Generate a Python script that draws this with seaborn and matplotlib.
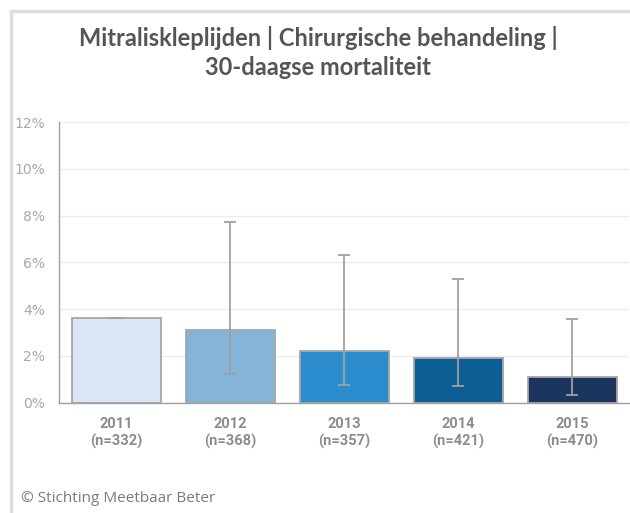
import numpy as np
import pandas as pd
import matplotlib
matplotlib.use('Agg')
import matplotlib.pyplot as plt
import seaborn as sns

# data (percent)
years = ['2011', '2012', '2013', '2014', '2015']
counts = [332, 368, 357, 421, 470]
mortality = [3.62, 3.11, 2.19, 1.92, 1.11]
ci_low = [3.62, 1.23, 0.76, 0.70, 0.34]
ci_high = [3.64, 7.74, 6.33, 5.29, 3.57]
bar_colors = ['#dae6f3', '#85b4d9', '#2b8ccd', '#0c5e95', '#1c355e']

labels = [f'{y}\n(n={n})' for y, n in zip(years, counts)]
df = pd.DataFrame({'label': labels, 'mortality': mortality})

sns.set_style('white')
plt.rcParams['font.family'] = ['Open Sans', 'DejaVu Sans']

fig = plt.figure(figsize=(6.3, 5.13), dpi=100)
ax = fig.add_axes([0.094, 0.215, 0.905, 0.547])

sns.barplot(data=df, x='label', y='mortality', hue='label', palette=bar_colors,
            legend=False, width=0.78, edgecolor='#a6a6a6', linewidth=1.3,
            saturation=1, errorbar=None, ax=ax)

# confidence intervals
x = np.arange(len(years))
m = np.array(mortality)
yerr = [m - np.array(ci_low), np.array(ci_high) - m]
ax.errorbar(x, m, yerr=yerr, fmt='none', ecolor='#a0a0a0', elinewidth=1.3,
            capsize=4.5, capthick=1.3, zorder=5)

ax.set_ylim(0, 12)
ax.set_xlim(-0.5, len(years) - 0.5)
ax.set_yticks(range(0, 13, 2))
ax.set_yticklabels([f'{v}%' for v in range(0, 13, 2)], color='#a8a8a8',
                   fontsize=10, family='DejaVu Sans')
ax.yaxis.grid(True, color='#ececec', linewidth=1)
ax.set_axisbelow(True)

ax.set_xticks(x)
ax.set_xticklabels(labels, fontsize=10.5, fontweight='bold', color='#8c8c8c',
                   family='Roboto', linespacing=1.3)
ax.set_xticks(np.arange(0.5, len(years) - 0.5, 1), minor=True)
ax.tick_params(axis='x', which='major', length=0, pad=10)
ax.tick_params(axis='x', which='minor', length=4, color='#c0c0c0', width=1)
ax.tick_params(axis='y', length=4, color='#a0a0a0', width=1, pad=6)
ax.set_xlabel('')
ax.set_ylabel('')

for side in ['top', 'right']:
    ax.spines[side].set_visible(False)
for side in ['left', 'bottom']:
    ax.spines[side].set_color('#a0a0a0')
    ax.spines[side].set_linewidth(1)

fig.text(0.505, 0.898, 'Mitraliskleplijden | Chirurgische behandeling |\n30-daagse mortaliteit',
         ha='center', va='center', fontsize=17, fontweight='bold', color='#555555',
         family=['Lato', 'DejaVu Sans'], linespacing=1.3)
fig.text(0.033, 0.028, '\u00a9 Stichting Meetbaar Beter', fontsize=11, color='#7a7a7a',
         ha='left', va='center')

# light frame on the top and left edges
fig.add_artist(plt.Line2D([0.018, 1], [0.979, 0.979], transform=fig.transFigure,
                          color='#dddddd', linewidth=2.5))
fig.add_artist(plt.Line2D([0.018, 0.018], [0, 0.979], transform=fig.transFigure,
                          color='#dddddd', linewidth=2.5))

fig.savefig('out.png', dpi=100)
